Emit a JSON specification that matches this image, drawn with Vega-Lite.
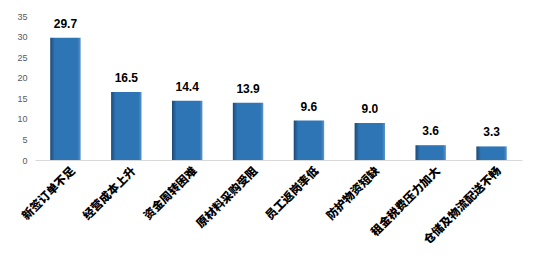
{
  "$schema": "https://vega.github.io/schema/vega-lite/v6.json",
  "width": 487,
  "height": 144,
  "autosize": {"type": "none"},
  "padding": {"left": 35, "top": 16, "right": 17, "bottom": 96},
  "background": "white",
  "config": {"view": {"stroke": null}},
  "data": {"values": [
    {"cat": "新签订单不足", "v": 29.7},
    {"cat": "经营成本上升", "v": 16.5},
    {"cat": "资金周转困难", "v": 14.4},
    {"cat": "原材料采购受阻", "v": 13.9},
    {"cat": "员工返岗率低", "v": 9.6},
    {"cat": "防护物资短缺", "v": 9.0},
    {"cat": "租金税费压力加大", "v": 3.6},
    {"cat": "仓储及物流配送不畅", "v": 3.3}
  ]},
  "encoding": {
    "x": {"field": "cat", "type": "nominal", "sort": null,
      "scale": {"paddingInner": 0.5, "paddingOuter": 0.25},
      "axis": {"title": null, "labelAngle": -45, "labelAlign": "right", "labelBaseline": "middle",
        "labelFont": "Noto Sans CJK SC", "labelFontSize": 11.5, "labelFontWeight": 900, "labelColor": "#000000",
        "ticks": false, "domainColor": "#D9D9D9", "domainWidth": 1, "labelPadding": 9, "labelOffset": 8, "labelLimit": 200}},
    "y": {"field": "v", "type": "quantitative",
      "scale": {"domain": [0, 35], "nice": false},
      "axis": {"title": null, "values": [0, 5, 10, 15, 20, 25, 30, 35], "grid": false, "domain": false, "ticks": false,
        "labelColor": "#595959", "labelFontSize": 9, "labelFont": "Liberation Sans", "labelPadding": 8}}
  },
  "layer": [
    {"mark": {"type": "bar",
      "color": {"gradient": "linear", "x1": 0, "x2": 1, "y1": 0, "y2": 0,
        "stops": [{"offset": 0, "color": "#1C4A75"}, {"offset": 0.15, "color": "#2E75B6"}, {"offset": 0.9, "color": "#2E75B6"}, {"offset": 1, "color": "#5E95C8"}]},
      "stroke": "#1F4E79", "strokeWidth": 0}},
    {"mark": {"type": "text", "dy": -14, "font": "Liberation Sans", "fontSize": 12, "fontWeight": "bold", "color": "#000000"},
      "encoding": {"text": {"field": "v", "type": "quantitative", "format": ".1f"}}}
  ]
}
